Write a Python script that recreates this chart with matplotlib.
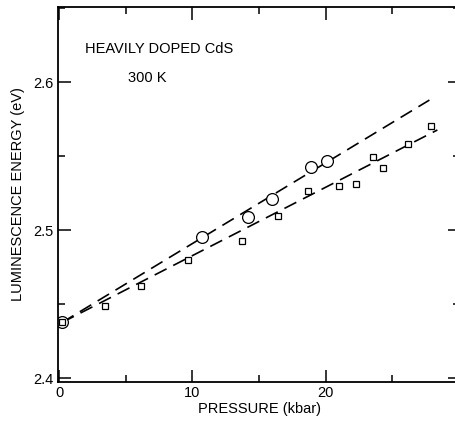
import numpy as np
import matplotlib
matplotlib.use("Agg")
import matplotlib.pyplot as plt
from matplotlib.ticker import MultipleLocator

plt.rcParams['font.family'] = ['Liberation Sans', 'DejaVu Sans']

# circles (upper series)
circ_p = [0.2, 10.75, 14.2, 16.0, 18.9, 20.1]
circ_e = [2.4378, 2.4953, 2.5088, 2.5209, 2.5426, 2.5466]

# squares (lower series)
sq_p = [0.2, 3.46, 6.1, 9.7, 13.76, 16.4, 18.65, 20.98, 22.3, 23.6, 24.3, 26.2, 27.9]
sq_e = [2.4378, 2.4486, 2.4622, 2.4797, 2.4926, 2.5095, 2.5264, 2.5297, 2.5311,
        2.5493, 2.5419, 2.5581, 2.5703]

# dashed fit lines (end points)
fit1_p = [0.2, 27.8]
fit1_e = [2.4375, 2.5878]
fit2_p = [0.2, 28.4]
fit2_e = [2.4375, 2.5676]

fig = plt.figure(figsize=(4.55, 4.21), dpi=100)
ax = fig.add_axes([58 / 455, 39 / 421, 402 / 455, 375 / 421])

ax.plot(fit1_p, fit1_e, color='black', lw=1.2, dashes=(8, 4.5))
ax.plot(fit2_p, fit2_e, color='black', lw=1.2, dashes=(8, 4.5))
ax.plot(circ_p, circ_e, 'o', ms=8.5, mfc='white', mec='black', mew=0.9)
ax.plot(sq_p, sq_e, 's', ms=5, mfc='white', mec='black', mew=0.9)

ax.set_xlim(-0.1, 30.1)
ax.set_ylim(2.3973, 2.6507)

ax.xaxis.set_minor_locator(MultipleLocator(5))
ax.yaxis.set_minor_locator(MultipleLocator(0.05))
ax.set_xticks([0, 10, 20])
ax.set_xticklabels(['0', '10', '20'])
ax.set_yticks([2.4, 2.5, 2.6])
ax.set_yticklabels(['2.4', '2.5', '2.6'])

ax.tick_params(which='both', direction='in', top=True, right=True, labelsize=10.5, pad=3)
ax.tick_params(which='major', length=9, width=1.1)
ax.tick_params(which='minor', length=5, width=1.1)
for s in ax.spines.values():
    s.set_linewidth(1.3)

ax.set_xlabel('PRESSURE (kbar)', fontsize=10.5, labelpad=1)
ax.set_ylabel('LUMINESCENCE ENERGY (eV)', fontsize=10.5, labelpad=6)

ax.text(1.9, 2.6225, 'HEAVILY DOPED CdS', fontsize=10.5, va='center')
ax.text(5.15, 2.6025, '300 K', fontsize=10.5, va='center')

fig.savefig('out.png', dpi=100)
